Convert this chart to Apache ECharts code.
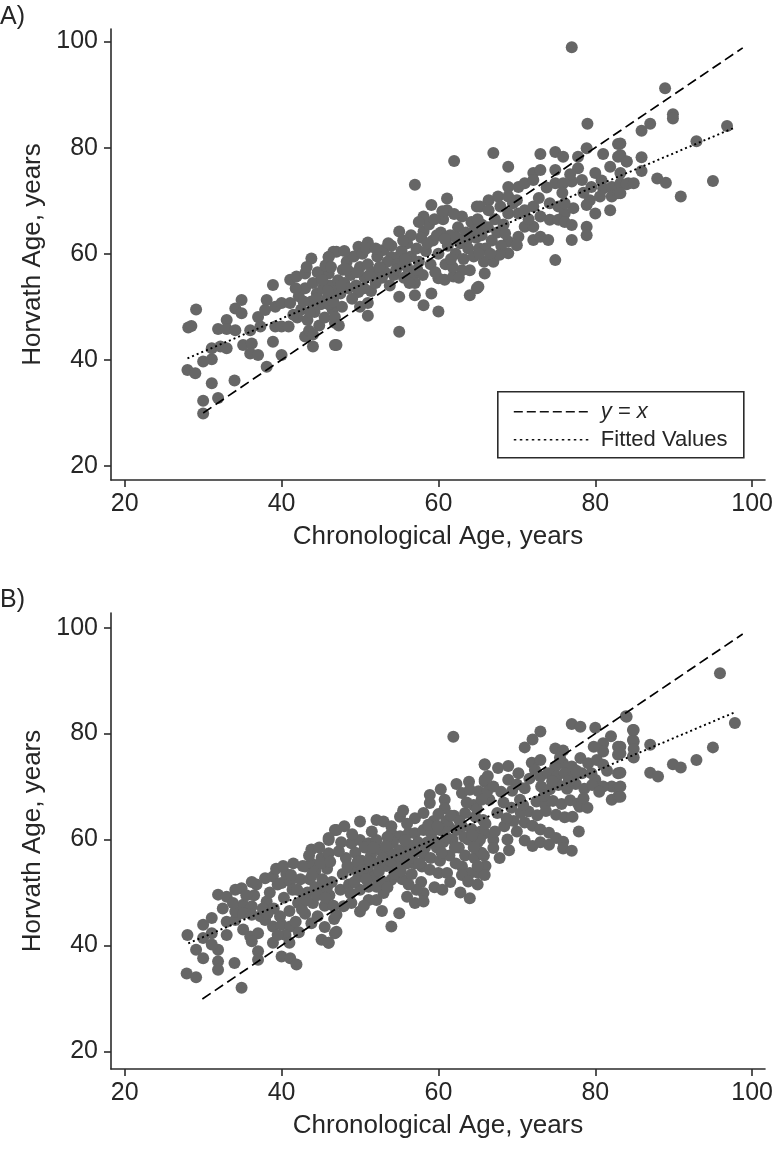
<!DOCTYPE html>
<html>
<head>
<meta charset="utf-8">
<script src="https://cdn.jsdelivr.net/npm/echarts@6/dist/echarts.min.js"></script>
<style>html,body{margin:0;padding:0;background:#fff;}#c{width:777px;height:1149px;}</style>
</head>
<body>
<div id="c"></div>
<script>
// ---- data ----
var tickValues = [20, 40, 60, 80, 100];
var xTitle = 'Chronological Age, years';
var yTitle = 'Horvath Age, years';
var legendItems = ['y = x', 'Fitted Values'];

var pointsA = [
[29.1,49.5],[28.1,46.1],[28.5,46.4],[28.0,38.1],[29.0,37.5],[30.0,39.7],[31.1,40.1],[31.1,42.2],[32.2,42.5],[31.1,35.6],[30.0,32.3],[31.9,32.8],[30.0,29.9],[34.0,36.1],[33.0,47.5],[31.9,45.8],[33.0,45.8],[34.1,45.6],[34.1,49.7],[34.9,51.3],[34.9,48.8],[33.0,42.2],[35.1,42.8],[36.2,43.1],[36.0,41.2],[37.0,40.9],[38.1,38.7],[36.0,45.6],[37.3,46.3],[37.0,48.1],[37.9,49.4],[38.1,51.3],[38.9,54.1],[39.2,50.0],[40.0,50.7],[39.2,46.3],[40.0,46.3],[40.9,46.3],[38.9,43.4],[40.0,40.9],[41.1,55.1],[41.9,55.7],[43.0,56.3],[41.1,50.7],[43.8,59.1],[46.0,59.4],[46.6,60.4],[45.1,55.7],[46.0,56.3],[43.0,44.4],[44.0,42.5],[46.8,42.8],
[42.2,52.0],[42.5,49.5],[43.0,53.5],[43.3,47.5],[43.8,51.0],[44.0,54.5],[44.2,49.0],[44.5,52.5],[44.8,46.5],[45.0,50.5],[45.3,53.5],[45.5,48.0],[45.8,51.5],[46.2,54.0],[46.5,49.5],[46.8,52.5],[42.0,48.0],[43.5,45.5],[44.6,56.5],[45.6,57.8],[43.2,57.5],[41.5,48.5],[46.8,47.0],[44.0,44.8],
[47.0,42.8],[46.8,48.1],[47.7,50.0],[47.0,60.4],[46.0,59.4],[51.0,48.3],[51.0,50.7],[50.0,50.0],[49.8,61.3],[51.0,62.1],[53.0,60.7],[54.0,59.4],[54.9,59.4],[55.0,64.2],[55.0,45.3],[55.0,51.9],[56.0,62.0],[57.0,73.0],[57.0,52.2],[58.1,50.3],[59.1,52.5],[60.0,49.1],[58.1,64.2],[58.1,67.0],[59.1,69.2],[61.1,70.4],[61.1,68.2],[62.0,77.5],[60.0,55.4],[60.8,55.1],[61.9,55.7],[63.0,56.9],[64.0,56.9],[64.0,52.2],[64.9,53.5],[63.0,67.0],[64.9,68.9],
[46.3,57.5],[47.2,55.0],[47.8,57.0],[46.5,53.0],[47.5,52.5],[48.0,54.5],[46.0,50.5],[47.3,46.5],
[48.3,58.5],[48.8,56.0],[49.2,59.5],[49.5,54.0],[50.0,57.5],[50.3,60.0],[50.6,55.5],[51.0,58.0],[51.4,53.0],[51.8,56.5],[52.2,59.5],[48.5,53.5],[49.8,52.8],[52.0,54.5],[50.8,61.0],[48.0,60.5],
[53.2,56.5],[53.5,58.5],[54.0,61.5],[54.3,56.0],[54.8,58.0],[55.3,60.5],[55.6,55.5],[56.0,57.5],[56.5,59.5],[56.8,56.0],[57.2,61.0],[57.5,58.5],[57.8,63.0],[58.0,56.0],[58.4,60.5],[58.8,65.5],[59.0,58.0],[59.3,62.5],[59.6,56.5],[60.0,60.0],[60.3,64.0],[60.6,66.5],[60.9,58.0],[61.2,61.5],[61.5,63.5],[61.8,57.5],[62.2,60.0],[62.5,65.0],[62.8,62.0],[63.2,59.0],[63.5,64.0],[63.8,61.0],[64.2,66.0],[64.5,59.5],[64.8,63.0],[65.2,61.0],[65.5,65.5],[65.8,58.5],[62.0,67.5],[60.5,68.0],[59.5,66.5],[57.5,66.0],[56.5,63.5],[55.5,62.5],[53.8,54.0],[52.5,57.5],[57.0,54.5],[62.6,55.5],
[77.0,98.9],[79.0,84.5],[67.0,79.0],[68.9,76.4],[73.0,78.8],[74.9,79.2],[75.9,78.3],[78.9,79.9],[77.8,78.3],[82.9,80.7],[81.0,78.8],[82.9,78.3],[84.0,77.4],[81.9,76.4],[72.1,75.2],[73.0,75.8],[74.9,75.8],[77.8,76.1],[80.0,75.2],[68.9,72.6],[70.2,72.6],[71.0,73.3],[72.1,73.9],[74.9,73.3],[75.9,73.3],[77.0,73.6],[78.3,73.9],[79.5,72.6],[81.0,72.3],[82.1,72.6],[83.2,73.3],[84.2,73.3],[79.3,70.1],[80.6,70.8],[82.1,70.8],[82.9,71.4],[78.9,69.2],[80.0,67.6],[81.9,68.2],[66.4,70.1],[67.6,70.8],[68.9,70.8],[70.0,70.1],[65.3,68.9],[66.4,68.2],[67.9,68.9],[68.9,67.6],[70.2,67.6],[71.0,68.2],[72.1,68.9],[74.2,69.5],[75.3,68.9],[76.1,67.6],[77.2,68.6],[76.1,69.5],[73.0,67.0],[74.2,66.4],[75.3,66.4],[76.1,66.0],[77.0,65.4],[77.0,62.6],[78.9,65.1],[78.9,63.5],[74.9,58.8],[72.1,62.6],[73.0,63.2],[74.0,62.6],[71.0,65.1],[72.1,65.1],[70.2,63.2],[68.9,62.3],[70.0,61.6],[68.9,60.1],[67.0,58.5],[65.9,56.3],[65.1,53.8],
[65.0,66.5],[65.5,63.5],[66.0,61.0],[66.3,65.0],[66.8,62.5],[67.2,66.5],[67.5,64.0],[68.0,61.5],[68.3,65.5],[65.2,60.0],[67.8,59.8],
[88.9,91.2],[89.9,86.3],[89.9,85.5],[85.9,83.2],[87.0,84.5],[96.8,84.1],[92.9,81.2],[83.2,80.8],[83.2,78.6],[84.0,77.4],[85.9,78.2],[85.9,75.6],[83.2,75.2],[84.0,73.1],[84.9,73.3],[87.9,74.2],[89.0,73.4],[95.0,73.7],[90.9,70.8],[83.2,71.4],
[41.8,53.5],[42.8,51.0],[43.6,49.0],[44.4,51.5],[45.2,55.0],[45.9,53.0],[46.6,51.0],[47.6,54.0],[48.4,57.0],[49.0,51.5],[49.6,56.5],[50.5,53.5],[51.2,56.0],[52.0,61.0],[52.8,55.5],[53.6,62.0],[54.6,57.0],[55.8,59.0],[56.3,54.5],[57.3,57.0],[58.6,62.0],[59.8,63.5],[60.8,62.8],[61.6,59.0],[62.3,63.0],[63.6,62.5],[64.6,64.5],[66.6,60.0],[68.5,63.8],[69.5,69.5],[71.5,66.5],[72.8,70.5],[73.8,72.5],[75.8,71.5],[76.8,75.0],[78.5,71.5],[80.8,73.8]
];

var pointsB = [
[28.0,42.0],[27.9,34.7],[29.1,34.0],[29.1,39.2],[30.0,37.6],[30.0,43.9],[31.1,45.2],[30.0,41.4],[31.1,42.3],[31.9,39.2],[31.9,37.0],[31.9,35.4],[31.1,40.2],[34.0,36.7],[34.9,32.0],[31.9,49.6],[33.0,49.2],[34.1,50.5],[34.9,50.8],[33.0,44.5],[34.1,44.8],[33.0,42.0],[35.1,47.7],[36.2,47.4],[34.1,46.4],[35.1,46.1],[36.2,45.8],[37.3,45.5],[35.1,43.0],[36.0,41.7],[37.0,42.3],[36.2,40.8],[37.0,38.9],[37.0,37.3],[36.8,51.5],[37.9,52.7],[38.9,53.0],[38.1,48.3],[38.9,40.5],[37.9,44.8],[38.9,43.6],[40.0,43.9],[41.1,43.6],[40.0,37.9],[41.1,37.6],[41.9,36.4],[40.0,51.8],[41.1,52.1],[43.0,54.9],[43.8,55.5],[43.8,58.1],[45.1,56.5],[46.0,57.4],[46.0,59.9],[46.8,61.8],[43.8,44.2],[45.1,41.1],[46.0,40.5],[46.8,42.3],
[38.5,50.0],[39.0,47.0],[39.5,51.5],[39.8,45.5],[40.3,49.0],[40.6,53.5],[41.0,46.5],[41.4,50.5],[41.8,44.5],[42.1,48.0],[42.4,52.5],[42.7,55.0],[43.0,46.0],[43.3,50.0],[43.6,52.5],[44.0,48.0],[44.3,54.0],[44.6,45.5],[44.9,50.5],[45.2,52.5],[45.5,47.5],[45.8,54.5],[46.1,49.5],[46.4,52.0],[46.7,45.0],[42.2,42.5],[43.5,57.0],[44.8,58.5],[45.5,43.5],[39.3,54.5],[41.5,55.5],[37.6,47.0],[36.5,49.5],[42.8,49.5],[44.3,51.0],[45.8,51.0],[40.5,42.0],
[61.9,79.4],[65.9,74.1],[65.9,70.9],[63.9,70.9],[64.0,48.9],[58.9,68.4],[58.9,66.9],[60.8,67.5],[60.8,65.9],[63.0,68.8],[64.0,69.4],[65.1,69.1],[57.0,64.0],[58.1,65.0],[55.1,64.3],[50.0,63.4],[52.1,63.7],[53.0,63.4],[54.0,62.5],[47.0,61.8],[46.0,60.3],[48.9,59.3],[50.0,59.9],[51.1,59.3],[52.1,59.9],[54.0,61.2],[55.1,60.6],[56.2,61.2],[57.0,61.2],[58.1,61.8],[59.1,61.2],[60.2,61.8],[61.3,62.5],[62.3,61.8],[63.4,65.0],[64.7,64.3],[65.7,63.7],[54.9,53.3],[54.0,52.4],[56.0,49.2],[57.0,48.0],[58.1,49.9],[58.1,48.3],[55.0,46.1],[54.0,43.6],[50.0,46.4],[47.0,42.6],[46.0,40.5],[47.0,45.8],[51.1,48.6],[52.1,48.6],[53.0,49.9],[50.0,50.5],[51.1,51.1],[52.1,51.1],[48.9,48.0],[47.9,47.4],[57.9,54.9],[58.9,54.3],[60.0,53.7],[61.1,53.7],[63.0,54.9],[64.0,53.7],[65.1,53.7],[63.0,53.3],[63.8,52.1],[54.9,56.2],[56.0,55.5],[57.0,55.5],
[47.5,50.5],[47.8,53.5],[48.2,56.5],[48.6,51.5],[49.0,54.5],[49.4,57.5],[49.8,53.0],[50.2,56.0],[50.6,58.5],[51.0,54.5],[51.4,57.0],[51.8,53.0],[52.2,55.5],[52.6,58.0],[53.0,52.0],[53.4,55.0],[53.8,57.5],[54.2,59.5],[54.6,55.0],[55.0,58.0],[55.4,52.5],[55.8,57.5],[56.2,59.0],[56.6,53.5],[57.0,57.5],[57.4,59.5],[57.8,52.0],[58.2,57.0],[58.6,59.5],[59.0,56.5],[59.4,63.5],[59.8,58.5],[60.2,56.0],[60.6,59.5],[61.0,63.5],[61.4,57.0],[61.8,60.0],[62.2,55.5],[62.6,58.5],[63.0,62.5],[63.4,57.0],[63.8,60.0],[64.2,62.0],[64.6,56.5],[65.0,59.5],[65.4,61.5],[65.8,57.0],[62.0,64.5],[60.0,64.8],[56.0,63.0],[53.5,60.5],[51.5,61.5],[49.0,61.0],[48.0,62.5],[57.2,50.5],[59.5,51.0],[61.5,52.0],[50.5,47.5],[52.8,46.5],[53.5,51.0],[56.2,51.5],[60.5,50.5],[62.8,50.0],[65.0,51.5],[66.0,55.0],[55.5,65.5],[60.3,69.5],[62.3,70.5],
[84.0,83.2],[77.0,81.8],[78.1,81.3],[80.0,81.1],[73.0,80.4],[72.0,78.9],[71.0,77.4],[74.9,77.2],[75.9,76.8],[84.8,80.7],[84.8,78.8],[84.8,75.7],[82.9,77.5],[82.9,76.0],[81.0,78.2],[81.0,76.6],[71.9,74.5],[73.0,75.0],[68.9,73.9],[65.9,74.2],[65.9,71.3],[68.9,71.3],[70.0,70.4],[71.0,69.7],[74.9,73.8],[75.9,74.4],[77.0,73.8],[78.1,75.4],[79.1,74.4],[80.2,75.0],[81.0,74.1],[82.9,72.5],[82.1,70.0],[82.9,69.7],[82.1,67.5],[82.9,68.1],[80.0,71.3],[81.0,70.0],[73.0,71.9],[74.0,72.5],[75.1,71.9],[76.1,72.5],[77.2,71.9],[78.3,72.5],
[73.1,70.0],[74.2,69.5],[75.3,70.3],[76.4,69.6],[77.5,70.5],[78.6,69.6],[79.6,70.3],
[72.5,67.2],[73.6,66.6],[74.6,67.3],[75.7,66.7],[76.8,67.4],[77.8,66.8],
[71.5,65.3],[72.6,64.6],[73.7,65.4],[75.0,64.7],[76.1,64.2],[77.1,64.3],[78.0,66.2],[79.0,66.0],
[71.0,63.2],[72.0,62.6],[73.0,61.9],[74.1,61.3],
[71.0,59.8],[72.0,58.8],[73.0,59.5],[74.1,59.0],[75.0,60.3],[75.9,59.6],[75.9,58.3],[77.0,57.9],
[77.9,61.5],[65.9,53.3],[65.9,61.2],[67.0,59.9],[67.0,58.4],
[64.5,66.5],[65.3,60.0],[66.0,63.0],[66.5,67.5],[67.2,61.5],[67.5,65.0],[68.0,69.0],[68.4,62.5],[68.8,60.0],[69.3,66.0],[69.6,63.5],[70.0,61.5],[70.4,67.5],[65.5,57.5],[66.2,69.0],[67.8,56.5],[69.0,58.0],[70.5,65.0],[65.0,55.0],[64.5,58.5],
[95.9,91.4],[97.8,82.0],[95.0,77.4],[92.9,75.0],[89.9,74.2],[90.9,73.6],[87.0,72.6],[88.0,71.9],[87.0,77.9],[83.9,83.3],[84.9,80.7],[84.9,78.5],[84.9,77.1],[84.9,75.5],[83.2,77.5],[83.2,76.3],[83.2,72.6],[83.2,70.0],[83.2,68.1],
[40.2,55.0],[41.2,53.3],[42.0,50.5],[42.6,46.8],[43.2,48.5],[43.9,53.3],[44.5,49.5],[45.0,55.5],[45.6,49.0],[46.2,55.8],[46.6,47.5],[47.3,57.8],[47.6,59.5],[48.4,55.0],[48.8,49.8],[49.3,52.0],[49.7,55.8],[50.3,54.2],[50.8,52.5],[51.3,55.8],[51.7,58.5],[52.4,54.0],[52.9,56.5],[53.3,58.8],[53.9,56.0],[54.4,53.5],[54.8,57.0],[55.2,54.0],[55.7,59.8],[56.4,56.5],[56.9,58.8],[57.6,55.5],[58.3,58.5],[58.7,62.8],[59.3,59.8],[59.9,62.5],[60.4,57.5],[61.0,60.5],[61.6,64.5],[62.1,58.5],[62.7,63.5],[63.3,60.5],[63.6,67.0],[64.3,60.8],[64.9,65.8],[65.5,67.5],[66.3,72.0],[67.0,70.0],[67.6,73.5],[68.3,67.0],[68.7,64.0],[69.4,69.2],[70.2,72.5],[70.8,66.5],[71.6,71.5],[72.3,73.2],[73.5,68.3],[74.5,71.0],[75.5,75.5],[76.6,71.0],[77.6,73.0],[78.5,67.8],[79.5,72.5],[80.5,69.0],[81.5,73.0],[79.8,77.5],[82.0,79.5],[36.2,52.0],[35.5,49.5],[33.8,48.0],[32.5,47.0],[38.2,46.0],[39.5,42.0],[41.0,40.5]
];

var identityA = [[30.0,30.0],[98.8,98.8]];
var fittedA = [[28.0,40.3],[97.8,83.8]];
var identityB = [[29.9,29.9],[98.8,98.8]];
var fittedB = [[28.1,40.4],[97.9,84.1]];

// ---- chart ----
var FONT = '"Liberation Sans", Arial, Helvetica, sans-serif';
var TXT = '#262626';
var AX = '#2b2b2b';
var chart = echarts.init(document.getElementById('c'), null, {renderer: 'canvas'});

function xAx(gi){
  return {
    type: 'value', gridIndex: gi, min: 18.25, max: 101.64,
    name: xTitle, nameLocation: 'middle', nameGap: 44,
    nameTextStyle: {fontFamily: FONT, fontSize: 26, color: TXT},
    axisLine: {show: true, onZero: false, lineStyle: {color: AX, width: 1.6}},
    axisTick: {show: true, length: 7, customValues: tickValues, lineStyle: {color: AX, width: 1.6}},
    axisLabel: {customValues: tickValues, fontFamily: FONT, fontSize: 25, color: TXT, margin: 12},
    splitLine: {show: false}
  };
}
function yAx(gi, mn, mx){
  return {
    type: 'value', gridIndex: gi, min: mn, max: mx,
    name: yTitle, nameLocation: 'middle', nameGap: 63, nameRotate: 90,
    nameTextStyle: {fontFamily: FONT, fontSize: 26, color: TXT},
    axisLine: {show: true, onZero: false, lineStyle: {color: AX, width: 1.6}},
    axisTick: {show: true, length: 7, customValues: tickValues, lineStyle: {color: AX, width: 1.6}},
    axisLabel: {customValues: tickValues, fontFamily: FONT, fontSize: 25, color: TXT, margin: 13},
    splitLine: {show: false}
  };
}
function scat(pts, i){
  return {type: 'scatter', xAxisIndex: i, yAxisIndex: i, data: pts, symbol: 'circle', symbolSize: 12,
    itemStyle: {color: '#666666', opacity: 1}, z: 2, silent: true, animation: false};
}
function ln(pts, i, dash, w){
  return {type: 'line', xAxisIndex: i, yAxisIndex: i, data: pts, symbol: 'none', z: 5, silent: true, animation: false,
    lineStyle: {color: '#000', width: w, type: dash}};
}

var option = {
  backgroundColor: '#fff',
  animation: false,
  grid: [
    {left: 111, top: 29, width: 654, height: 451},
    {left: 111, top: 613, width: 654, height: 456}
  ],
  xAxis: [xAx(0), xAx(1)],
  yAxis: [yAx(0, 17.36, 102.36), yAx(1, 16.68, 102.77)],
  series: [
    scat(pointsA, 0), ln(identityA, 0, [10, 5], 1.7), ln(fittedA, 0, [2, 3], 1.9),
    scat(pointsB, 1), ln(identityB, 1, [10, 5], 1.7), ln(fittedB, 1, [2, 3], 1.9)
  ],
  graphic: [
    {type: 'text', left: 0, top: 5, style: {text: 'A)', fontFamily: FONT, fontSize: 25, fill: TXT}},
    {type: 'text', left: 0, top: 588, style: {text: 'B)', fontFamily: FONT, fontSize: 25, fill: TXT}},
    {type: 'group', left: 497, top: 391, z: 100, children: [
      {type: 'rect', shape: {x: 0, y: 0, width: 246, height: 66}, style: {fill: '#fff', stroke: '#2b2b2b', lineWidth: 1.6}},
      {type: 'line', shape: {x1: 16, y1: 20, x2: 93, y2: 20}, style: {stroke: '#111', lineWidth: 1.5, lineDash: [9, 4]}},
      {type: 'line', shape: {x1: 16, y1: 48, x2: 93, y2: 48}, style: {stroke: '#111', lineWidth: 1.6, lineDash: [2.5, 3.5]}},
      {type: 'text', x: 103, y: 20, style: {text: '{i|y} = {i|x}', fontFamily: FONT, fontSize: 22, fill: TXT, verticalAlign: 'middle',
        rich: {i: {fontStyle: 'italic', fontFamily: FONT, fontSize: 22, fill: TXT, color: TXT}}}},
      {type: 'text', x: 103, y: 48, style: {text: legendItems[1], fontFamily: FONT, fontSize: 22, fill: TXT, verticalAlign: 'middle'}}
    ]}
  ]
};
chart.setOption(option);
</script>
</body>
</html>
